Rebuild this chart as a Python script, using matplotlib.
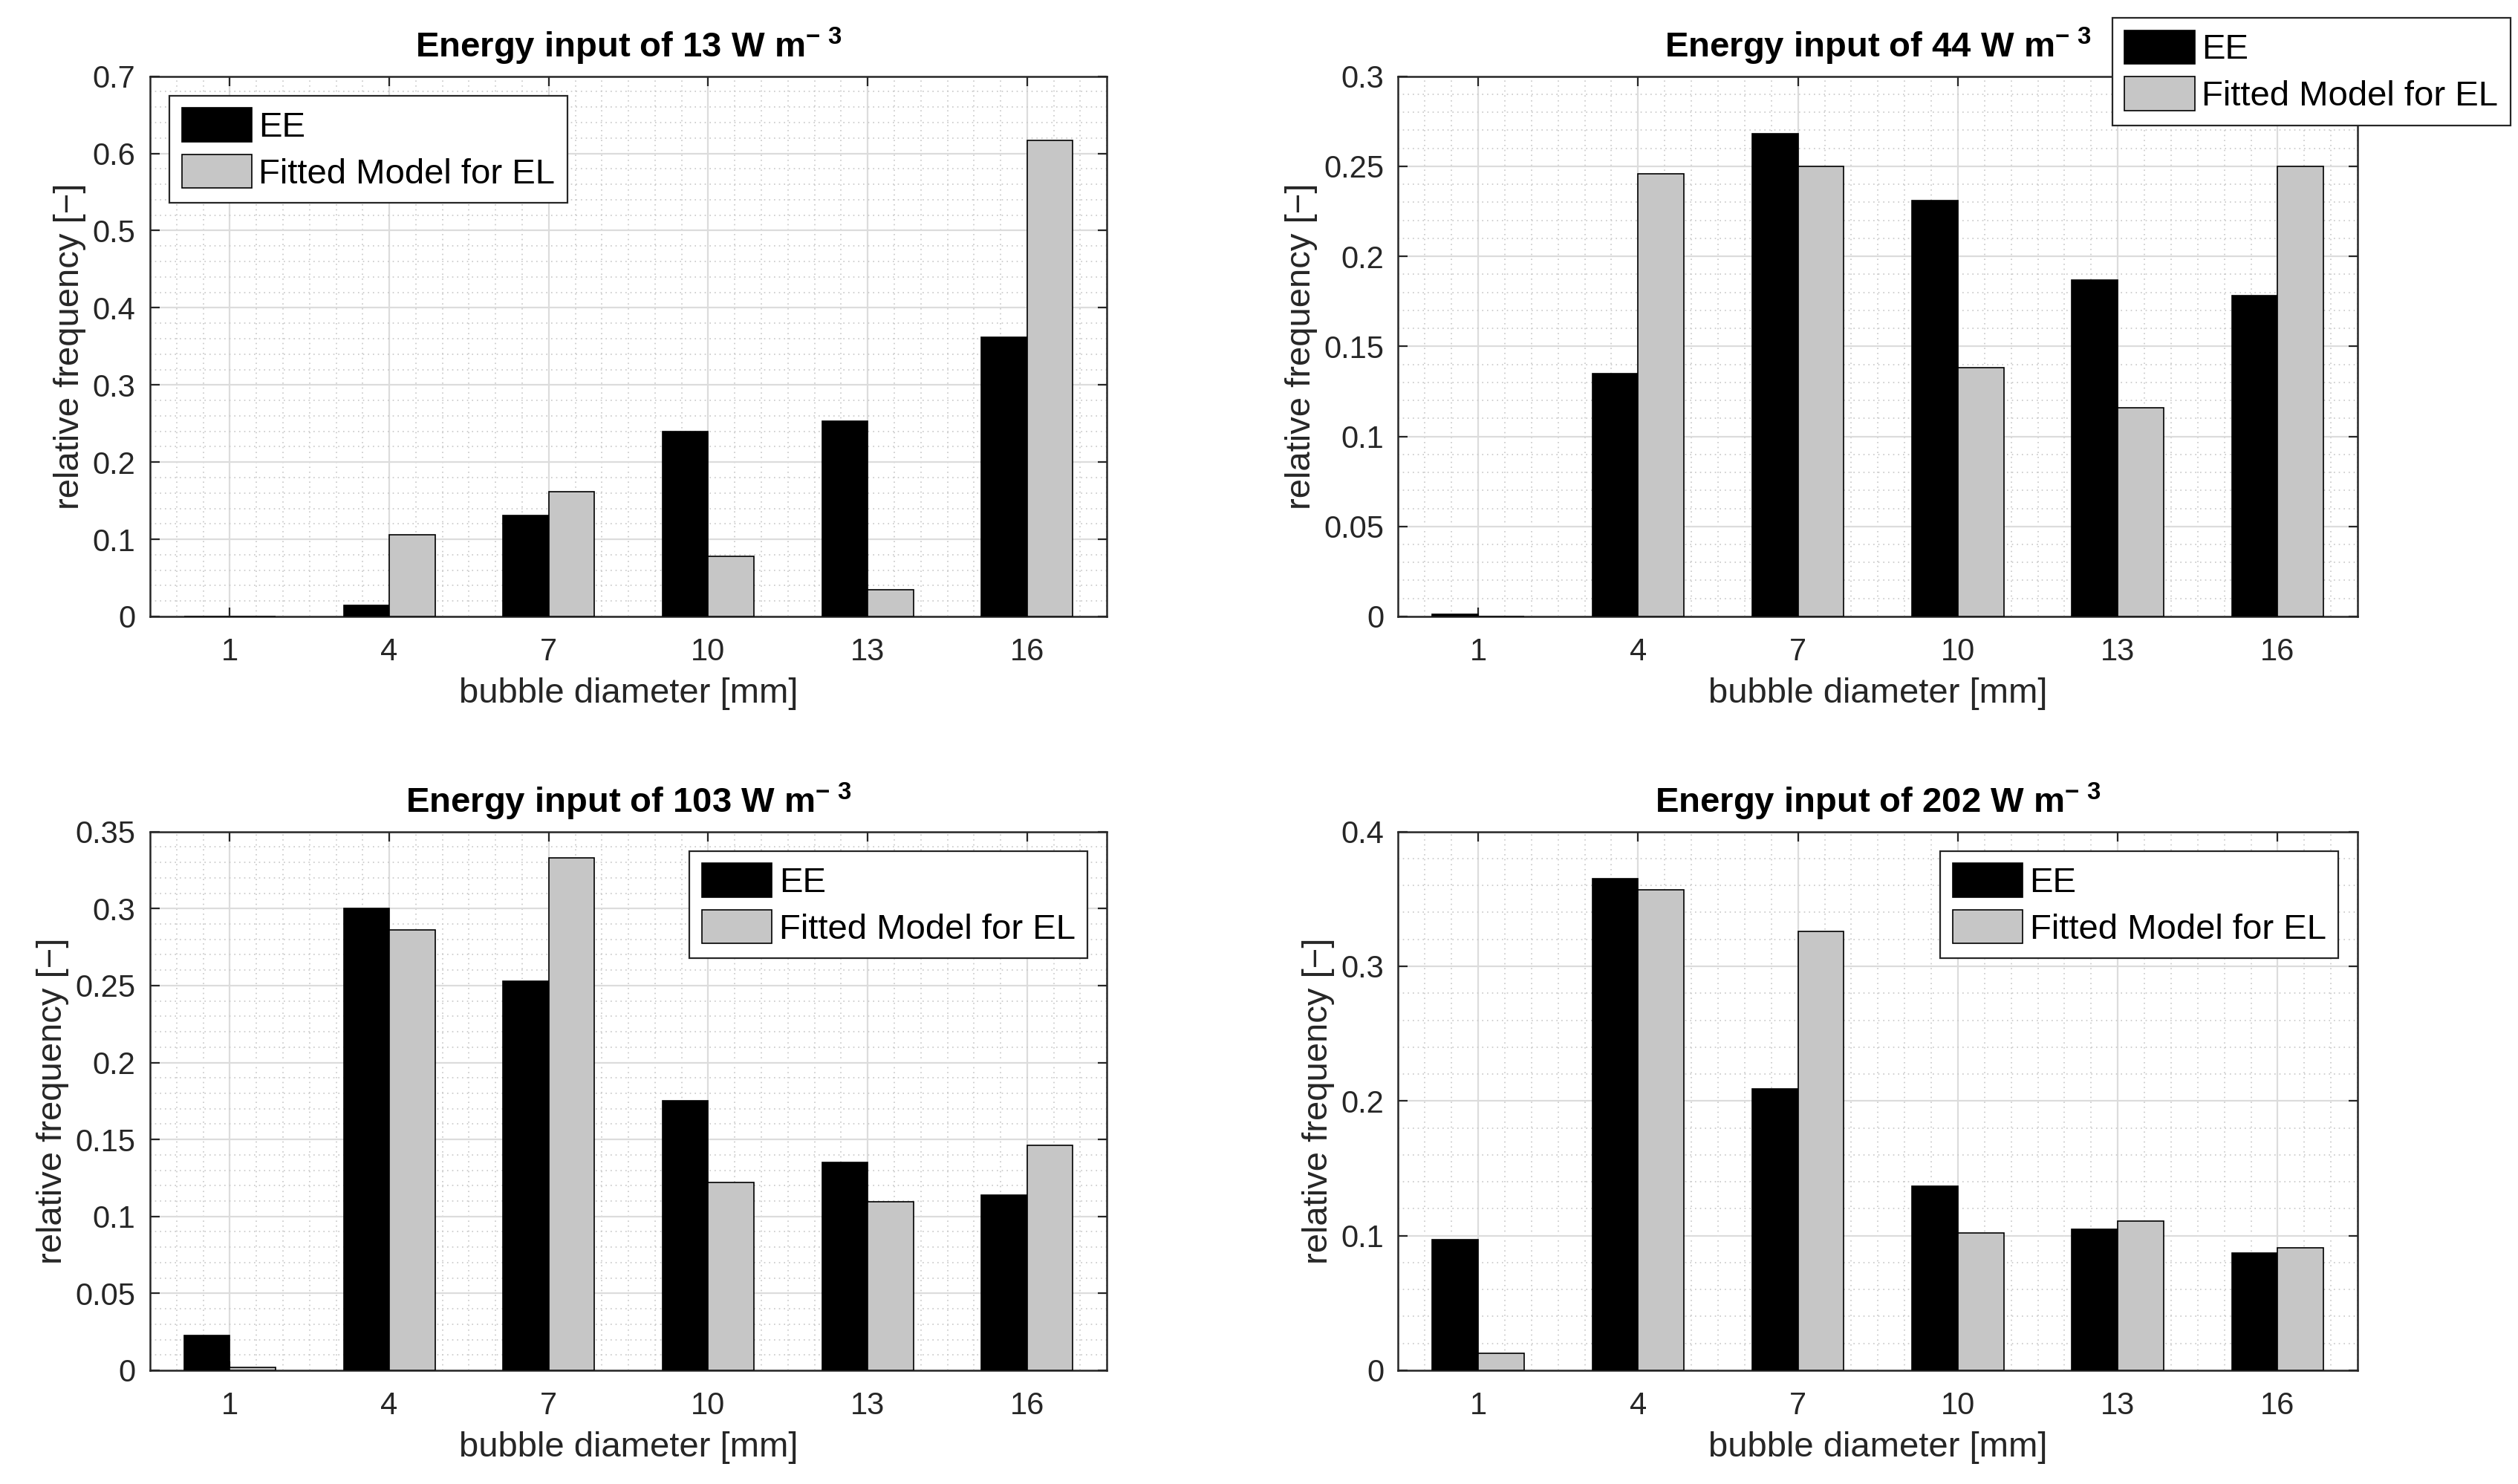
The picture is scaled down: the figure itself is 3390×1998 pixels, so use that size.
import numpy as np
import matplotlib
matplotlib.use('Agg')
import matplotlib.pyplot as plt
from matplotlib.ticker import MultipleLocator, FuncFormatter

plt.rcParams['font.family'] = ['Liberation Sans', 'DejaVu Sans']
plt.rcParams['mathtext.default'] = 'regular'

# bubble diameter classes [mm]
diameters = [1, 4, 7, 10, 13, 16]
tick_labels = ['1', '4', '7', '10', '13', '16']

energy_inputs = [13, 44, 103, 202]

# relative frequency, experimental (EE) and fitted model (EL)
ee_13 = [0.0, 0.014, 0.131, 0.240, 0.253, 0.362]
el_13 = [0.0, 0.106, 0.162, 0.078, 0.035, 0.617]

ee_44 = [0.0013, 0.135, 0.268, 0.231, 0.187, 0.178]
el_44 = [0.0, 0.246, 0.250, 0.138, 0.116, 0.250]

ee_103 = [0.0225, 0.300, 0.253, 0.175, 0.135, 0.114]
el_103 = [0.002, 0.286, 0.333, 0.122, 0.1095, 0.146]

ee_202 = [0.097, 0.365, 0.209, 0.137, 0.105, 0.087]
el_202 = [0.0127, 0.357, 0.326, 0.102, 0.111, 0.091]

ee_all = [ee_13, ee_44, ee_103, ee_202]
el_all = [el_13, el_44, el_103, el_202]

y_max = [0.7, 0.3, 0.35, 0.4]
y_major = [0.1, 0.05, 0.05, 0.1]
y_minor = [0.02, 0.01, 0.01, 0.02]

# axes positions [left, bottom, width, height] in figure fraction
positions = [[0.0596, 0.5846, 0.380, 0.364],
             [0.5553, 0.5846, 0.381, 0.364],
             [0.0596, 0.0766, 0.380, 0.363],
             [0.5553, 0.0766, 0.381, 0.363]]

fig = plt.figure(figsize=(16.95, 9.99), dpi=200)

x = np.array(diameters, dtype=float)
w = 0.86
gray = '#c6c6c6'

for i in range(4):
    ax = fig.add_axes(positions[i])
    ax.bar(x - w / 2, ee_all[i], width=w, color='black', edgecolor='black',
           linewidth=0.6, label='EE', zorder=3)
    ax.bar(x + w / 2, el_all[i], width=w, color=gray, edgecolor='black',
           linewidth=0.6, label='Fitted Model for EL', zorder=3)

    ax.set_xlim(-0.5, 17.5)
    ax.set_ylim(0, y_max[i])
    ax.set_xticks(diameters)
    ax.set_xticklabels(tick_labels)
    ax.xaxis.set_minor_locator(MultipleLocator(0.5))
    ax.yaxis.set_major_locator(MultipleLocator(y_major[i]))
    ax.yaxis.set_minor_locator(MultipleLocator(y_minor[i]))
    ax.yaxis.set_major_formatter(FuncFormatter(lambda v, p: '%g' % round(v, 4)))

    ax.grid(which='major', color='#dcdcdc', linewidth=0.8, linestyle='-', zorder=0)
    ax.grid(which='minor', color='#c8c8c8', linewidth=0.6, linestyle=(0, (1, 3)), zorder=0)
    ax.set_axisbelow(True)

    ax.tick_params(which='major', direction='in', length=4.5, width=0.8,
                   top=True, right=True, labelsize=15, colors='#262626', pad=7)
    ax.tick_params(axis='x', which='major', pad=10)
    ax.tick_params(which='minor', length=0, top=True, right=True)
    for s in ax.spines.values():
        s.set_color('#262626')
        s.set_linewidth(0.9)

    ax.set_xlabel('bubble diameter [mm]', fontsize=17, color='#262626', labelpad=5)
    ax.set_ylabel('relative frequency [\u2212]', fontsize=17, color='#262626', labelpad=3)
    ax.set_title('Energy input of %d W m$^{-\\ 3}$' % energy_inputs[i],
                 fontsize=17, fontweight='bold', pad=9)

    leg_kw = dict(fontsize=17, handlelength=2.0, handleheight=1.1, handletextpad=0.2,
                  labelspacing=0.3, borderpad=0.35, fancybox=False, framealpha=1,
                  edgecolor='#262626')
    if i == 0:
        leg = ax.legend(loc='upper left', borderaxespad=0.55, **leg_kw)
    elif i == 1:
        leg = ax.legend(loc='upper right', bbox_to_anchor=(0.997, 0.988),
                        bbox_transform=fig.transFigure, borderaxespad=0, **leg_kw)
    else:
        leg = ax.legend(loc='upper right', borderaxespad=0.55, **leg_kw)
    leg.get_frame().set_linewidth(0.8)

fig.savefig('out.png', dpi=200)
